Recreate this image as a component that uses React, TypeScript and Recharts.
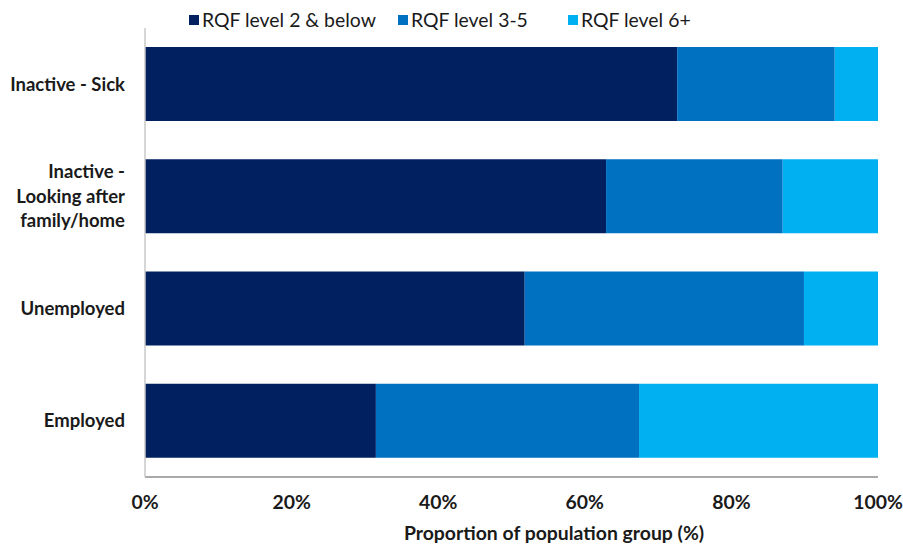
import { BarChart, Bar, XAxis, YAxis } from "recharts";

const categories = ["Inactive - Sick", "Inactive - Looking after family/home", "Unemployed", "Employed"];
const level2Below = [72.6, 62.9, 51.8, 31.5];
const level3to5 = [21.5, 24.1, 38.1, 35.9];
const level6Plus = [5.9, 13.0, 10.1, 32.6];
const xTicks = [0, 20, 40, 60, 80, 100];

const tickLines: Record<string, string[]> = {
  "Inactive - Sick": ["Inactive - Sick"],
  "Inactive - Looking after family/home": ["Inactive -", "Looking after", "family/home"],
  Unemployed: ["Unemployed"],
  Employed: ["Employed"],
};

const series = [
  { key: "l2", name: "RQF level 2 & below", color: "#002060", values: level2Below },
  { key: "l35", name: "RQF level 3-5", color: "#0070C0", values: level3to5 },
  { key: "l6", name: "RQF level 6+", color: "#00B0F0", values: level6Plus },
];

const data = categories.map((c, i) => ({
  name: c,
  l2: level2Below[i],
  l35: level3to5[i],
  l6: level6Plus[i],
}));

const FONT = "Lato, 'Open Sans', sans-serif";

function YTick(props: any) {
  const { x, y, payload } = props;
  const lines = tickLines[payload.value] ?? [payload.value];
  const lh = 24.5;
  const start = y - ((lines.length - 1) * lh) / 2;
  return (
    <text x={x} y={start} textAnchor="end" fontFamily={FONT} fontWeight="bold" fontSize={18.5} fill="#1a1a1a">
      {lines.map((l, i) => (
        <tspan key={i} x={x} y={start + i * lh} dy="0.35em">
          {l}
        </tspan>
      ))}
    </text>
  );
}

function XLabel() {
  return (
    <text x={554} y={533} textAnchor="middle" dy="0.35em" fontFamily={FONT} fontWeight="bold" fontSize={19.4} fill="#1a1a1a">
      Proportion of population group (%)
    </text>
  );
}

const legendPos = [189, 398, 568];

export default function App() {
  return (
    <div style={{ position: "absolute", left: 0, top: 0, width: 903, height: 544, background: "#fff", overflow: "hidden" }}>
      <div style={{ position: "absolute", top: 0, left: 0, width: 903, height: 40, fontFamily: FONT, fontSize: 19.4, color: "#1a1a1a" }}>
        {series.map((s, i) => (
          <div key={s.key} style={{ position: "absolute", left: legendPos[i], top: 7, display: "flex", alignItems: "center", lineHeight: "26px" }}>
            <span style={{ display: "inline-block", width: 10, height: 10, background: s.color, marginRight: 3 }} />
            <span>{s.name}</span>
          </div>
        ))}
      </div>
      <BarChart
        width={903}
        height={544}
        data={data}
        layout="vertical"
        margin={{ top: 28, right: 25, bottom: 0, left: 0 }}
        barCategoryGap="17%"
      >
        <XAxis
          type="number"
          domain={[0, 100]}
          ticks={xTicks}
          tickFormatter={(v) => `${v}%`}
          axisLine={{ stroke: "#8c8c8c", strokeWidth: 1.5 }}
          tickLine={false}
          tickMargin={12}
          height={67}
          tick={{ fontFamily: FONT, fontWeight: "bold", fontSize: 19.4, fill: "#1a1a1a" }}
          label={<XLabel />}
        />
        <YAxis
          type="category"
          dataKey="name"
          width={145}
          axisLine={{ stroke: "#c8c8c8", strokeWidth: 1.5 }}
          tickLine={false}
          tickMargin={14}
          tick={<YTick />}
        />
        {series.map((s) => (
          <Bar key={s.key} dataKey={s.key} name={s.name} stackId="a" fill={s.color} isAnimationActive={false} />
        ))}
      </BarChart>
    </div>
  );
}
